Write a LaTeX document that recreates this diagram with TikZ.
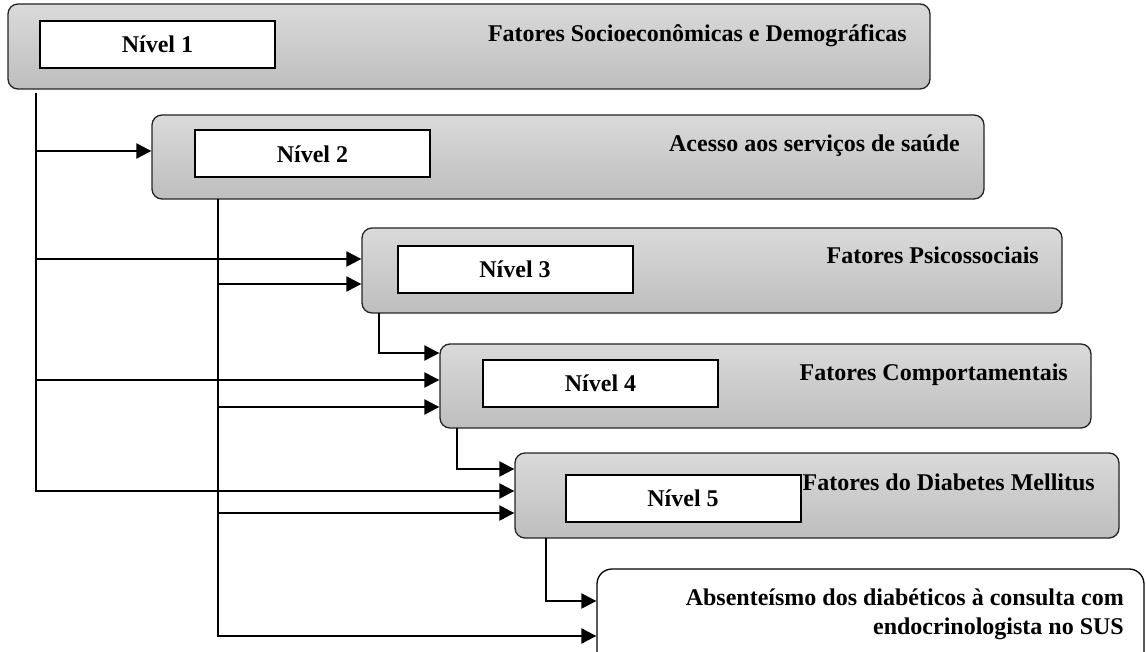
\documentclass[tikz,border=0pt]{standalone}
\usepackage{fontspec}
\setmainfont{Liberation Serif}
\usetikzlibrary{arrows.meta}
\definecolor{gtop}{RGB}{218,218,218}
\definecolor{gbot}{RGB}{190,190,190}
\definecolor{edgec}{RGB}{35,35,35}
\begin{document}
\begin{tikzpicture}[x=1pt,y=-1pt,
  levelbox/.style={draw=edgec, line width=1.3pt, rounded corners=10pt,
    top color=gtop, bottom color=gbot, inner sep=0pt},
  lbl/.style={draw=black, line width=2pt, fill=white, inner sep=0pt,
    minimum width=235pt, minimum height=47pt,
    font=\fontsize{24}{28}\selectfont\bfseries},
  ttl/.style={inner sep=0pt, anchor=base east,
    font=\fontsize{24}{28}\selectfont\bfseries},
  finbox/.style={draw=black, line width=1.3pt, rounded corners=15pt,
    fill=white, inner sep=0pt},
  conn/.style={draw=black, line width=2.2pt},
  arr/.style={conn, -{Triangle[length=15pt,width=15pt]}}
]
\useasboundingbox (0,0) rectangle (1146,652);
\clip (0,0) rectangle (1146,652);

% level boxes
\node[levelbox, minimum width=922pt, minimum height=85pt] (b1) at (469,46.5) {};
\node[levelbox, minimum width=832pt, minimum height=84pt] (b2) at (568,157) {};
\node[levelbox, minimum width=700pt, minimum height=85pt] (b3) at (712,270.5) {};
\node[levelbox, minimum width=651pt, minimum height=84pt] (b4) at (765.5,386) {};
\node[levelbox, minimum width=604pt, minimum height=85pt] (b5) at (817,495.5) {};
\node[finbox, minimum width=547pt, minimum height=101pt] (fin) at (870.5,619.5) {};

% inner labels
\node[lbl] (n1) at (157.5,44.5) {Nível 1};
\node[lbl] (n2) at (312.5,154) {Nível 2};
\node[lbl] (n3) at (515,269.5) {Nível 3};
\node[lbl] (n4) at (600.5,383) {Nível 4};
\node[lbl] (n5) at (683,498.5) {Nível 5};

% titles
\node[ttl] (t1) at (907,41.5) {Fatores Socioeconômicas e Demográficas};
\node[ttl] (t2) at (960,152) {Acesso aos serviços de saúde};
\node[ttl] (t3) at (1039,264) {Fatores Psicossociais};
\node[ttl] (t4) at (1068,380) {Fatores Comportamentais};
\node[ttl] (t5) at (1095,490) {Fatores do Diabetes Mellitus};
\node[ttl] (f1) at (1124,605) {Absenteísmo dos diabéticos à consulta com};
\node[ttl] (f2) at (1124,634) {endocrinologista no SUS};

% trunk start points
\coordinate (s1) at (36,93);
\coordinate (s2) at (218,199);
\coordinate (s3) at (379,313);
\coordinate (s4) at (457,428);
\coordinate (s5) at (546,538);

% from level 1
\draw[arr] (s1) |- (b2.west |- 0,151);
\draw[arr] (s1) |- (b3.west |- 0,259);
\draw[arr] (s1) |- (b4.west |- 0,380);
\draw[arr] (s1) |- (b5.west |- 0,491);
% from level 2
\draw[arr] (s2) |- (b3.west |- 0,284);
\draw[arr] (s2) |- (b4.west |- 0,407);
\draw[arr] (s2) |- (b5.west |- 0,513);
\draw[arr] (s2) |- (fin.west |- 0,636);
% from level 3, 4, 5
\draw[arr] (s3) |- (b4.west |- 0,353);
\draw[arr] (s4) |- (b5.west |- 0,469);
\draw[arr] (s5) |- (fin.west |- 0,601);
\end{tikzpicture}
\end{document}
